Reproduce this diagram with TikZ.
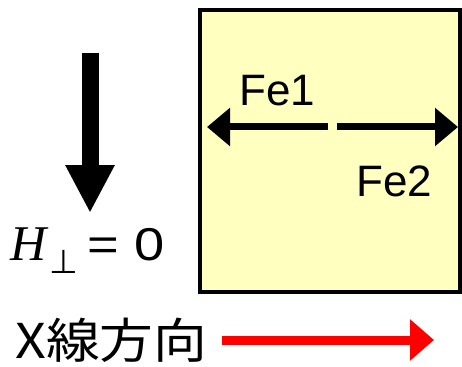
\documentclass[tikz,border=0pt]{standalone}
\usepackage{fontspec}
\setmainfont{Liberation Sans}
\newfontfamily\timesfont{Liberation Serif}
\newfontfamily\dejavufont{DejaVu Sans}
\newfontfamily\widesans[FakeStretch=1.18]{Liberation Sans}
\newfontfamily\cjkfont[FakeStretch=1.12]{Noto Sans CJK JP}
\usetikzlibrary{arrows.meta}
\definecolor{boxyellow}{HTML}{FFFFC0}
\definecolor{xred}{HTML}{FF0000}
\begin{document}
\begin{tikzpicture}[x=1pt,y=-1pt,
  lbl/.style={inner sep=0pt,font=\fontsize{44}{44}\selectfont},
  spinarrow/.style={line width=7pt,-{Triangle[length=23pt,width=37pt]}},
  fieldarrow/.style={line width=17pt,-{Triangle[length=48pt,width=46pt]}},
  rayarrow/.style={xred,line width=9pt,-{Triangle[length=24pt,width=40pt]}}]
\useasboundingbox (0,0) rectangle (462,366);
\node[draw=black,line width=4.5pt,fill=boxyellow,minimum width=260pt,minimum height=282pt,inner sep=0pt] (box) at (330,151) {};
% Fe arrows
\coordinate (f1s) at (328,127);
\coordinate (f1e) at (207,127);
\coordinate (f2s) at (337,127);
\coordinate (f2e) at (458,127);
\draw[spinarrow] (f1s) -- (f1e);
\draw[spinarrow] (f2s) -- (f2e);
\node[lbl,anchor=base west] (fe1) at (239,106) {Fe1};
\node[lbl,anchor=base west] (fe2) at (356,196) {Fe2};
% field arrow
\coordinate (hs) at (90,53);
\coordinate (he) at (90,213);
\draw[fieldarrow] (hs) -- (he);
\node[inner sep=0pt,anchor=base west,font=\fontsize{50}{50}\selectfont\timesfont\itshape] (hsym) at (10,260) {H};
\node[inner sep=0pt,anchor=base west,font=\fontsize{33}{33}\selectfont\dejavufont] (hperp) at (49,273) {⊥};
\node[inner sep=0pt,anchor=base west,font=\fontsize{46}{46}\selectfont\widesans] (hval) at (87,260) {=\,\,0};
% X-ray direction
\node[inner sep=0pt,anchor=base west,font=\fontsize{48}{48}\selectfont\cjkfont] (xray) at (15,358) {X線方向};
\coordinate (rs) at (222,340);
\coordinate (re) at (434,340);
\draw[rayarrow] (rs) -- (re);
\end{tikzpicture}
\end{document}
